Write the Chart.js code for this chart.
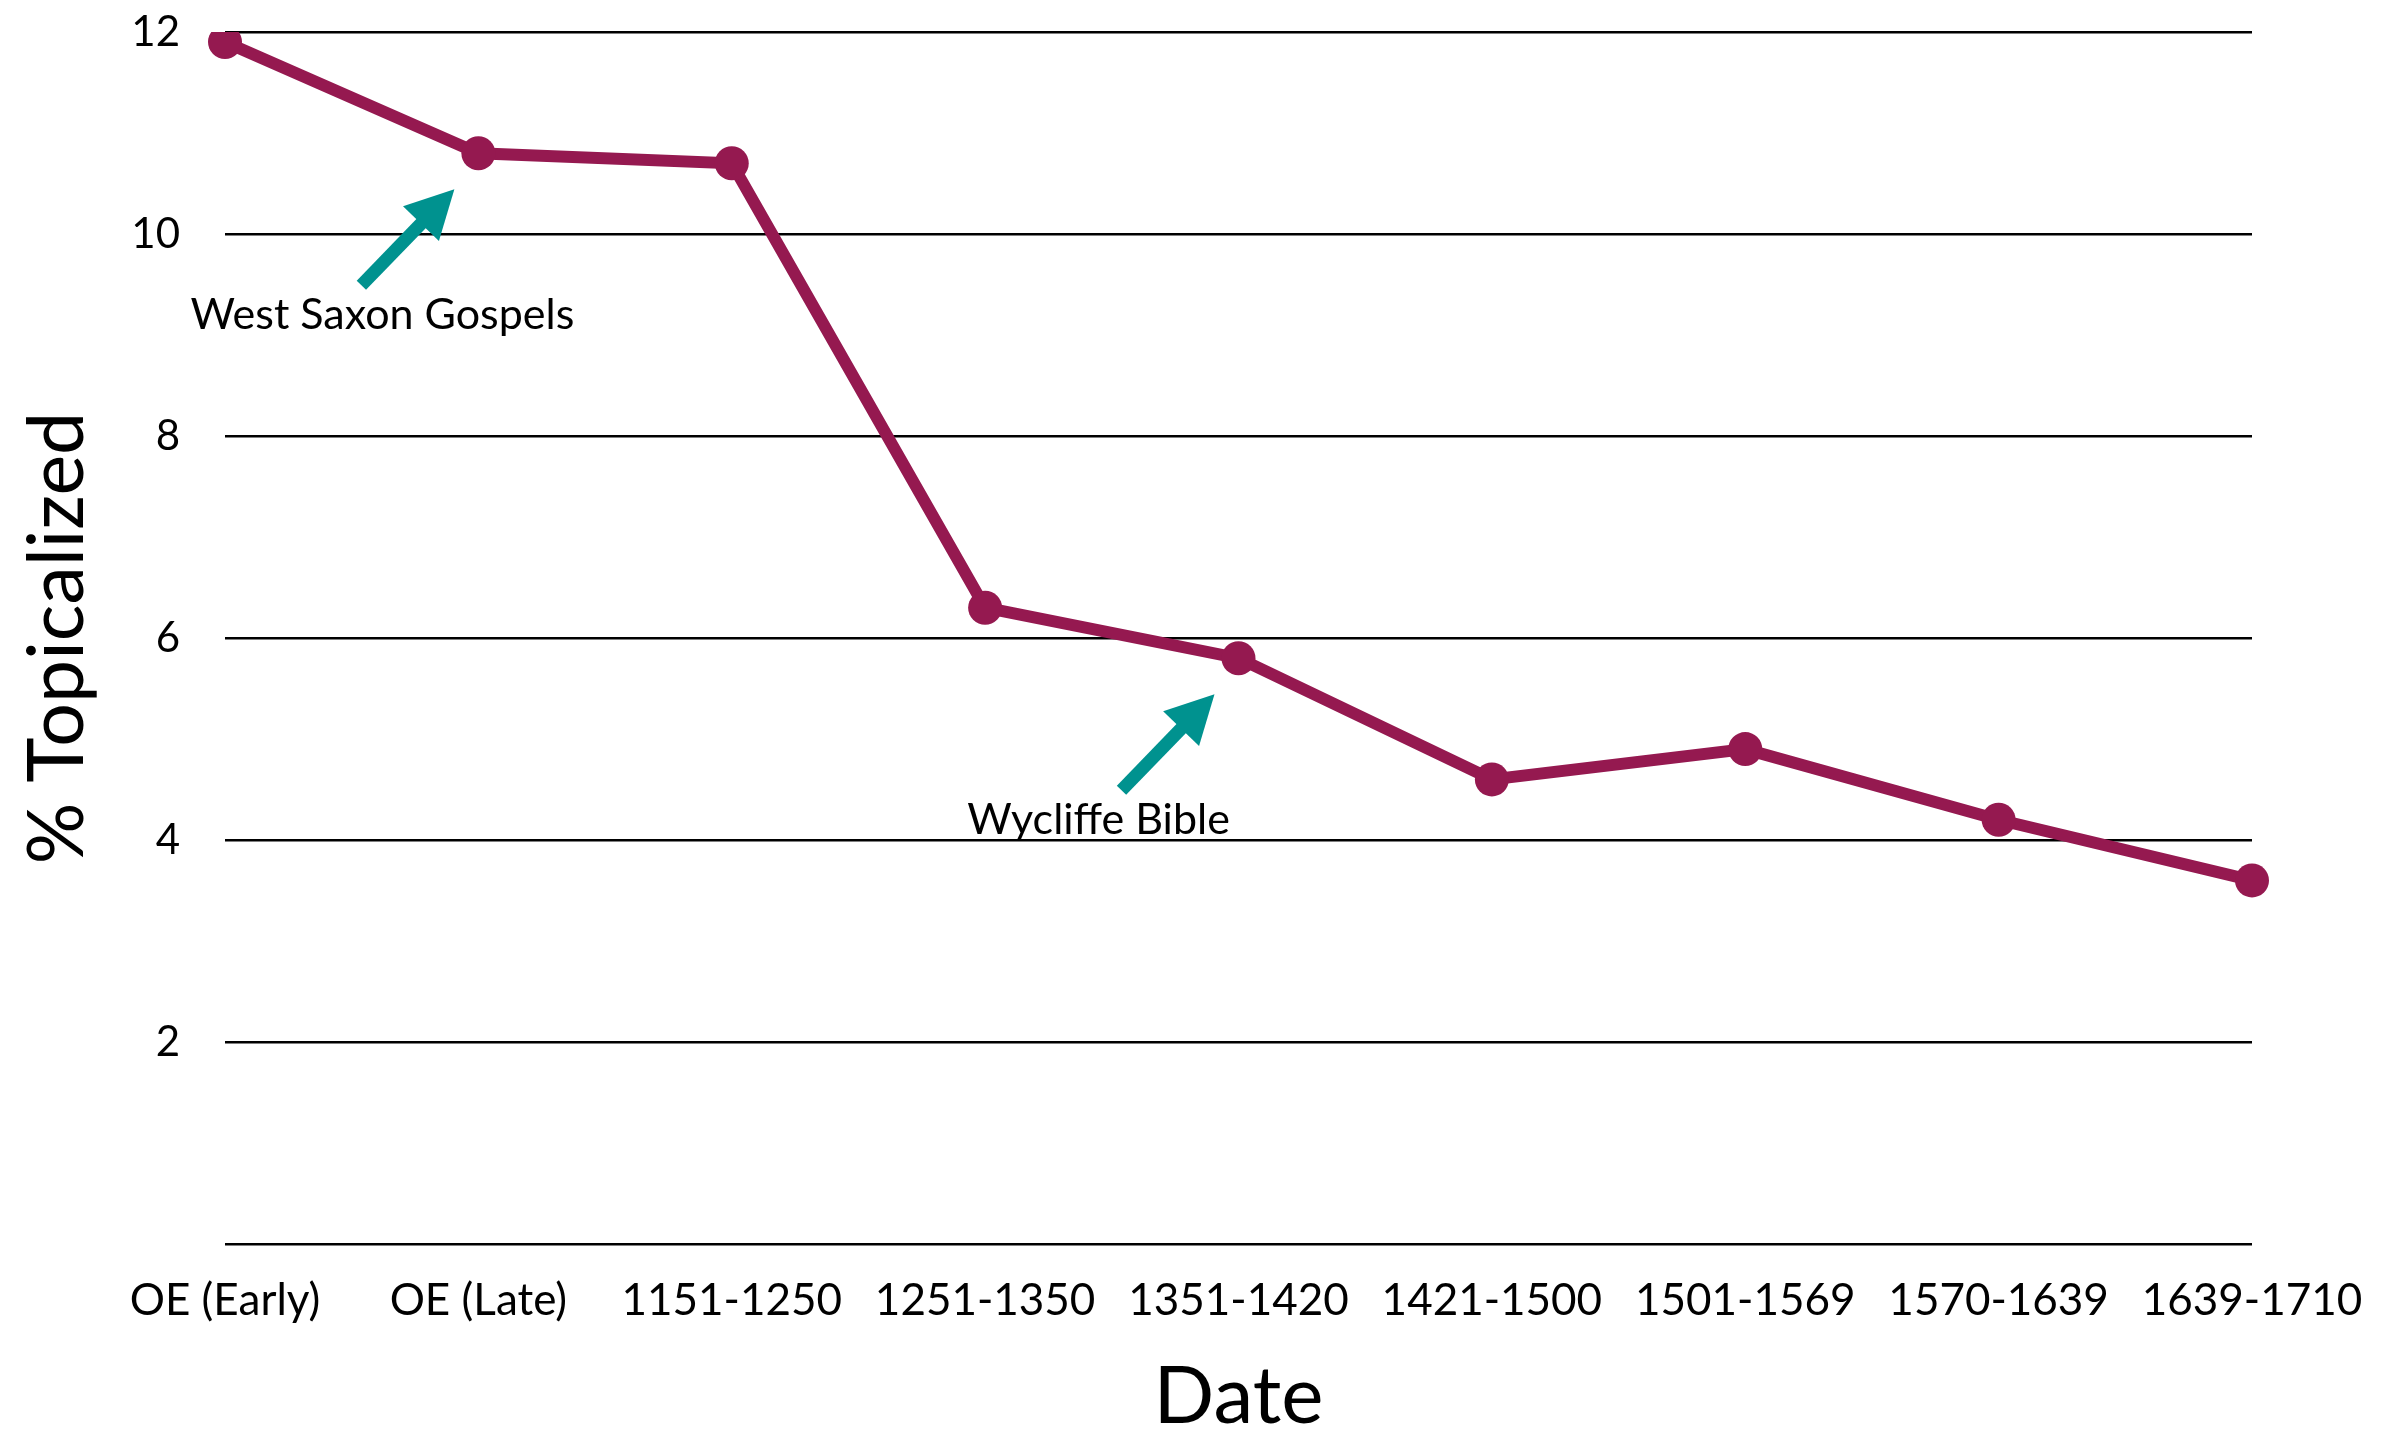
<!DOCTYPE html>
<html>
<head>
<meta charset="utf-8">
<script src="https://cdn.jsdelivr.net/npm/chart.js@4"></script>
<style>
  html, body { margin: 0; padding: 0; background: #fff; }
  #wrap { width: 2388px; height: 1435px; }
</style>
</head>
<body>
<div id="wrap"><canvas id="myChart"></canvas></div>
<script>
// data
const periods = ["OE (Early)", "OE (Late)", "1151-1250", "1251-1350", "1351-1420", "1421-1500", "1501-1569", "1570-1639", "1639-1710"];
const topicalized = [11.9, 10.8, 10.7, 6.3, 5.8, 4.6, 4.9, 4.2, 3.6];
const yTicks = [0, 2, 4, 6, 8, 10, 12];

// notes with arrows pointing at a period's point
const noteLabels = ["West Saxon Gospels", "Wycliffe Bible"];
const notePeriods = ["OE (Late)", "1351-1420"];

const lineColor = "#951950";
const arrowColor = "#00928f";
const font = "Lato, 'Open Sans', sans-serif";

// draw the teal arrows + text next to the points
const notesPlugin = {
  id: "notes",
  afterDatasetsDraw(chart) {
    const ctx = chart.ctx;
    const xs = chart.scales.x, ys = chart.scales.y;
    noteLabels.forEach((txt, i) => {
      const idx = periods.indexOf(notePeriods[i]);
      const px = xs.getPixelForValue(idx);
      const py = ys.getPixelForValue(topicalized[idx]);
      const tip = { x: px - 24, y: py + 36 };
      const tail = { x: px - 117, y: py + 132 };
      const ang = Math.atan2(tip.y - tail.y, tip.x - tail.x);
      const headLen = 48, headW = 25;
      const base = { x: tip.x - headLen * Math.cos(ang), y: tip.y - headLen * Math.sin(ang) };
      ctx.save();
      // shaft
      ctx.strokeStyle = arrowColor;
      ctx.lineWidth = 13;
      ctx.beginPath();
      ctx.moveTo(tail.x, tail.y);
      ctx.lineTo(base.x + 6 * Math.cos(ang), base.y + 6 * Math.sin(ang));
      ctx.stroke();
      // head
      ctx.fillStyle = arrowColor;
      ctx.beginPath();
      ctx.moveTo(tip.x, tip.y);
      ctx.lineTo(base.x - headW * Math.sin(ang), base.y + headW * Math.cos(ang));
      ctx.lineTo(base.x + headW * Math.sin(ang), base.y - headW * Math.cos(ang));
      ctx.closePath();
      ctx.fill();
      // text
      ctx.fillStyle = "#000";
      ctx.font = "43px " + font;
      ctx.textAlign = "center";
      ctx.textBaseline = "middle";
      const dx = i === 0 ? -96 : -140;
      ctx.fillText(txt, px + dx, py + 162);
      ctx.restore();
    });
  }
};

const ctx = document.getElementById("myChart").getContext("2d");
new Chart(ctx, {
  type: "line",
  data: {
    labels: periods,
    datasets: [
      {
        label: "% Topicalized",
        data: topicalized,
        borderColor: lineColor,
        backgroundColor: lineColor,
        borderWidth: 12,
        pointRadius: 17,
        pointBorderWidth: 0,
        pointBackgroundColor: lineColor,
        tension: 0,
      },
    ],
  },
  options: {
    responsive: true,
    maintainAspectRatio: false,
    animation: false,
    layout: { padding: { left: 0, right: 136, top: 32, bottom: 0 } },
    plugins: {
      legend: { display: false },
      tooltip: { enabled: false },
    },
    scales: {
      x: {
        offset: false,
        grid: { display: false },
        border: { display: false },
        ticks: {
          color: "#000",
          font: { family: font, size: 44 },
          padding: 22,
          maxRotation: 0,
          autoSkip: false,
        },
        title: {
          display: true,
          text: "Date",
          color: "#000",
          font: { family: font, size: 80, lineHeight: 0.95 },
          padding: { top: 0, bottom: 0 },
        },
        afterFit(scale) { scale.height = 191; },
      },
      y: {
        min: 0,
        max: 12,
        afterBuildTicks(scale) { scale.ticks = yTicks.map(v => ({ value: v })); },
        grid: { color: "#000", lineWidth: 2.5, drawTicks: false },
        border: { display: false },
        ticks: {
          color: "#000",
          font: { family: font, size: 42 },
          padding: 45,
          callback: (v) => (v === 0 ? "" : v),
        },
        title: {
          display: true,
          text: "% Topicalized",
          color: "#000",
          font: { family: font, size: 77 },
          padding: { top: 12, bottom: 0 },
        },
        afterFit(scale) {
          scale.width = 225;
          scale.paddingTop = 0;
          scale.paddingBottom = 0;
        },
      },
    },
  },
  plugins: [notesPlugin],
});
</script>
</body>
</html>
